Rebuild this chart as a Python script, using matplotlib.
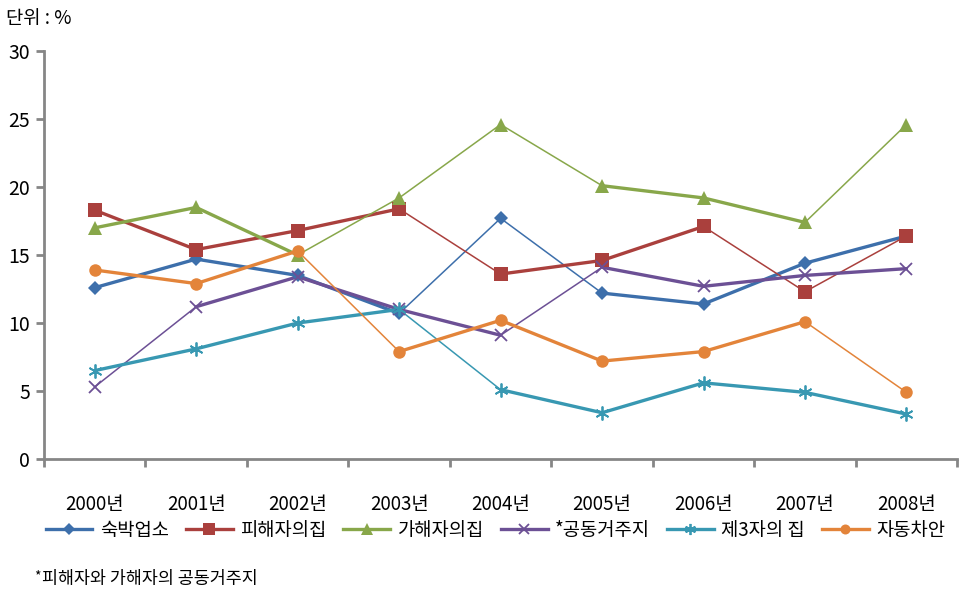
import numpy as np
import matplotlib.pyplot as plt
from matplotlib.lines import Line2D

plt.rcParams['font.family'] = ['Noto Sans CJK KR', 'DejaVu Sans']

years = ['2000년', '2001년', '2002년', '2003년', '2004년', '2005년', '2006년', '2007년', '2008년']

# 장소별 비율 (%)
lodging = [12.6, 14.7, 13.5, 10.7, 17.7, 12.2, 11.4, 14.4, 16.4]
victim_home = [18.3, 15.4, 16.8, 18.4, 13.6, 14.6, 17.1, 12.3, 16.4]
offender_home = [17.0, 18.5, 15.0, 19.2, 24.6, 20.1, 19.2, 17.4, 24.6]
shared_home = [5.3, 11.2, 13.4, 11.0, 9.1, 14.1, 12.7, 13.5, 14.0]
third_home = [6.5, 8.1, 10.0, 11.0, 5.1, 3.4, 5.6, 4.9, 3.3]
car = [13.9, 12.9, 15.3, 7.9, 10.2, 7.2, 7.9, 10.1, 4.9]

names = ['숙박업소', '피해자의집', '가해자의집', '*공동거주지', '제3자의 집', '자동차안']
series = [lodging, victim_home, offender_home, shared_home, third_home, car]
colors = ['#3D6FAB', '#AA403D', '#88A74A', '#6C5095', '#3898B2', '#E3843A']
markers = ['D', 's', '^', 'x', (6, 2, 0), 'o']
msizes = [7.5, 10, 10, 9, 10, 9]

fig = plt.figure(figsize=(9.62, 6.01), dpi=100)
ax = fig.add_axes([0.0457, 0.2363, 0.9493, 0.6787])

x = np.arange(len(years))
for vals, col, mk, ms, name in zip(series, colors, markers, msizes, names):
    v = np.array(vals)
    # 엑셀 원본처럼 가파른 구간은 얇게 보임
    for i in range(len(v) - 1):
        lw = 1.1 if abs(v[i + 1] - v[i]) > 3.8 else 2.4
        ax.plot(x[i:i + 2], v[i:i + 2], color=col, lw=lw, solid_capstyle='round', zorder=2)
    mew = 1.3 if mk in ('x', (6, 2, 0)) else 0
    ax.plot(x, v, linestyle='none', marker=mk, markersize=ms, color=col,
            markeredgewidth=mew, markeredgecolor=col, zorder=3)

ax.set_xlim(-0.5, len(years) - 0.5)
ax.set_ylim(0, 30)
ax.set_yticks(range(0, 31, 5))
ax.set_xticks(x)
ax.set_xticklabels(years, fontsize=13.5)
ax.set_xticks(np.arange(-0.5, len(years), 1), minor=True)
ax.tick_params(axis='x', which='major', length=0, pad=25)
ax.tick_params(axis='x', which='minor', length=6, width=2, color='#868686')
ax.tick_params(axis='y', length=6, width=2, color='#868686', labelsize=14, pad=4)

for s in ['top', 'right']:
    ax.spines[s].set_visible(False)
for s in ['left', 'bottom']:
    ax.spines[s].set_color('#868686')
    ax.spines[s].set_linewidth(2)

fig.text(0.006, 0.97, '단위 : %', fontsize=13.5, va='center', ha='left')

handles = [Line2D([0], [0], color=c, lw=2.4, marker=m, markersize=ms * 0.8,
                  markeredgewidth=(1.3 if m in ('x', (6, 2, 0)) else 0), markeredgecolor=c)
           for c, m, ms in zip(colors, markers, msizes)]
fig.legend(handles, names, loc='center', bbox_to_anchor=(0.515, 0.118), ncol=6,
           frameon=False, fontsize=13.5, handlelength=2.5, handletextpad=0.4,
           columnspacing=0.9)

fig.text(0.035, 0.03, '*', fontsize=10, va='bottom', ha='left')
fig.text(0.044, 0.022, '피해자와 가해자의 공동거주지', fontsize=12.5, va='bottom', ha='left')

fig.savefig('out.png', dpi=100)
